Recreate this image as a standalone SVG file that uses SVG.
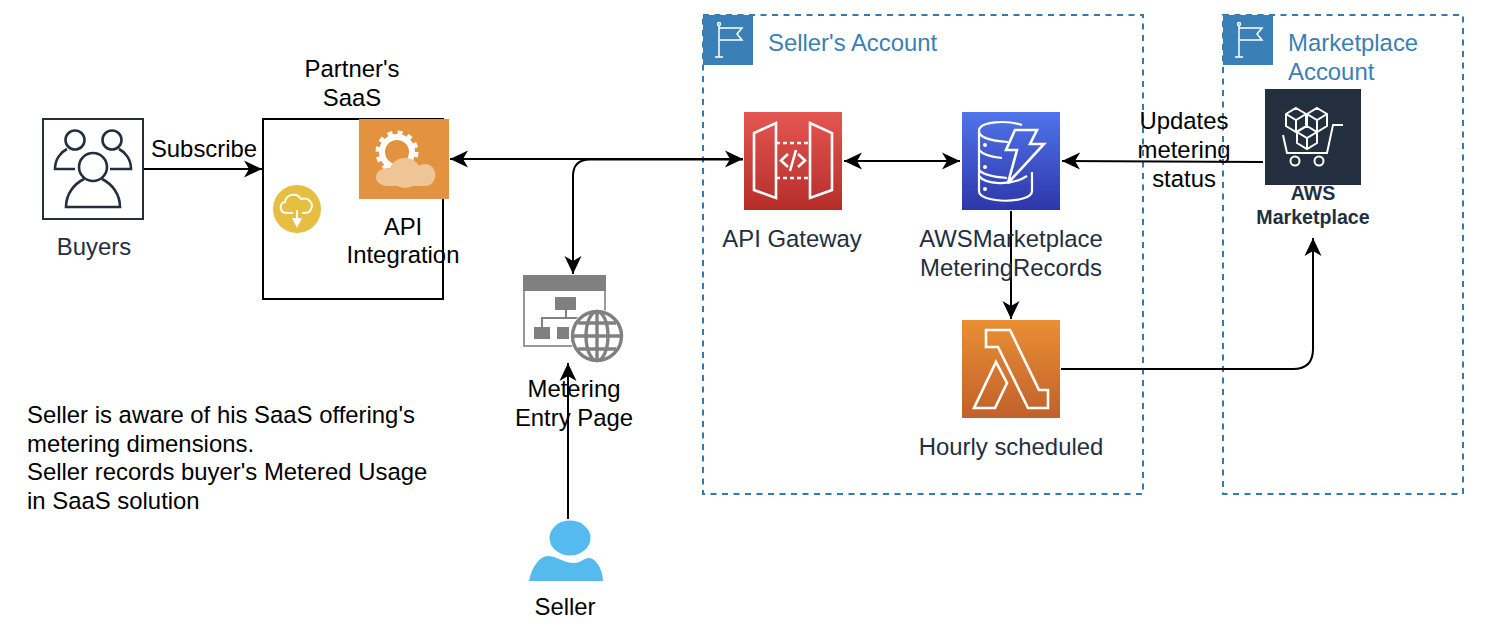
<svg xmlns="http://www.w3.org/2000/svg" width="1506" height="634" viewBox="0 0 1506 634">
<style>
text{font-family:"Liberation Sans",Arial,sans-serif;font-size:23.900px;fill:#000}
.c{text-anchor:middle}
.d{fill:#232F3E}
.b{fill:#3A7FB5}
.acct{fill:none;stroke:#337AB2;stroke-width:2;stroke-dasharray:6 5.5}
.f{fill:none;stroke:#fff;stroke-width:1.500}
.w{fill:none;stroke:#fff;stroke-width:2.600;stroke-linejoin:miter}
.wt{fill:none;stroke:#fff;stroke-width:2.600;stroke-dasharray:4 3}
.ln{fill:none;stroke:#000;stroke-width:2}
.g{fill:#808080}
.gs{fill:none;stroke:#808080;stroke-width:3.400}
.bi{fill:none;stroke:#232F3E;stroke-width:2.600}
.lb{font-size:19.600px;font-weight:700}
.cl{fill:#EFC595}
</style>
<defs>
<linearGradient id="red" x1="0" y1="0" x2="0" y2="1"><stop offset="0" stop-color="#E45652"/><stop offset="1" stop-color="#B52D29"/></linearGradient>
<linearGradient id="blue" x1="0" y1="0" x2="0" y2="1"><stop offset="0" stop-color="#4F74EB"/><stop offset="1" stop-color="#2E37A8"/></linearGradient>
<linearGradient id="orange" x1="0" y1="0" x2="0" y2="1"><stop offset="0" stop-color="#E98F34"/><stop offset="1" stop-color="#C1602B"/></linearGradient>
<marker id="ah" markerUnits="userSpaceOnUse" markerWidth="19" markerHeight="20" refX="18" refY="10" orient="auto-start-reverse"><path d="M0 1.500 L18 10 L0 18.500 L5 10Z" fill="#000"/></marker>
</defs>
<g id="seller-account"><rect class="acct" x="703" y="15" width="440" height="479"/><rect x="703" y="15" width="50" height="50" fill="#3A7FB5"/><path class="f" d="M719 25V57M715 57H723M719 28H742L737 34 742 40H719"/><circle cx="719" cy="24" r="1.500" class="f"/><text x="768" y="51" class="b">Seller's Account</text></g>
<g id="marketplace-account"><rect class="acct" x="1223" y="15" width="240" height="479"/><rect x="1223" y="15" width="50" height="50" fill="#3A7FB5"/><path class="f" d="M1239 25V57M1235 57H1243M1239 28H1262L1257 34 1262 40H1239"/><circle cx="1239" cy="24" r="1.500" class="f"/><text class="b"><tspan x="1288" y="51">Marketplace</tspan><tspan x="1288" y="80">Account</tspan></text></g>
<g id="partner-saas"><rect x="263" y="119" width="180" height="180" fill="#fff" stroke="#000" stroke-width="2"/><text class="c"><tspan x="352" y="77">Partner's</tspan><tspan x="352" y="106">SaaS</tspan></text></g>
<g id="download"><circle cx="297" cy="209" r="24" fill="#E5BE42"/><path class="w" d="M293 213H287C279 213 279 203 285 202C286 194 297 192 301 199C309 197 314 204 311 209C310 213 307 213 302 213M297 210V222" style="stroke-width:2"/><path d="M292 218H302L297 228Z" fill="#fff"/></g>
<g id="connectors">
<path class="ln" d="M143 169H262" marker-end="url(#ah)"/>
<path class="ln" d="M450 159H743" marker-start="url(#ah)" marker-end="url(#ah)"/>
<path class="ln" d="M743 159.500H590Q573 159.500 573 176V274" marker-end="url(#ah)"/>
<path class="ln" d="M844 161H960" marker-start="url(#ah)" marker-end="url(#ah)"/>
<path class="ln" d="M1263 162L1062 161" marker-end="url(#ah)"/>
<path class="ln" d="M1011 211V319" marker-end="url(#ah)"/>
<path class="ln" d="M1061 369H1293Q1313 369 1313 349V238" marker-end="url(#ah)"/>
<path class="ln" d="M568 519V363" marker-end="url(#ah)"/>
<text x="204" y="157" class="c">Subscribe</text>
</g>
<g id="buyers"><rect x="43" y="119" width="100" height="100" fill="none" stroke="#232F3E" stroke-width="2"/><circle class="bi" cx="75" cy="140" r="9.500"/><circle class="bi" cx="112" cy="140" r="9.500"/><path class="bi" d="M75 169H55C55 159 61 152 67 149M110 169H131C131 159 125 152 119 149"/><circle class="bi" cx="93" cy="167" r="14"/><path class="bi" d="M84 179C74 184 66 194 66 207H120C120 194 112 184 102 179"/><text x="94" y="255" class="c d">Buyers</text></g>
<g id="api-integration"><rect x="359" y="119" width="90" height="80" fill="#E3933F"/><circle cx="397" cy="152" r="15" fill="none" stroke="#fff" stroke-width="6"/><circle cx="397" cy="152" r="19.500" fill="none" stroke="#fff" stroke-width="4" stroke-dasharray="5 5.210"/><ellipse class="cl" cx="405" cy="173" rx="16" ry="15"/><ellipse class="cl" cx="387" cy="177" rx="11" ry="9"/><ellipse class="cl" cx="425" cy="175" rx="10.500" ry="11"/><rect class="cl" x="387" y="176" width="38" height="10"/><text class="c"><tspan x="403" y="235">API</tspan><tspan x="403" y="263">Integration</tspan></text></g>
<g id="metering-page"><rect x="524" y="276" width="81" height="70" fill="#fff" stroke="#999" stroke-width="2"/><rect x="523" y="275" width="83" height="16" class="g"/><rect x="555" y="297" width="21" height="13" class="g"/><path d="M566 310V318M542 328V318H590" fill="none" stroke="#808080" stroke-width="2"/><rect x="534" y="327" width="16" height="12" class="g"/><rect x="557" y="327" width="12" height="12" class="g"/><circle cx="597" cy="336" r="27" fill="#fff"/><circle cx="597" cy="336" r="24.500" class="gs"/><ellipse cx="597" cy="336" rx="11" ry="24.500" class="gs"/><path class="gs" d="M597 312V360M573 336H621M578 323H616M578 349H616"/><text class="c"><tspan x="574" y="397">Metering</tspan><tspan x="574" y="426">Entry Page</tspan></text></g>
<g id="api-gateway"><rect x="744" y="112" width="98" height="98" fill="url(#red)"/><path class="w" d="M776 123V198L754 190V133ZM810 123V198L832 190V133Z"/><path class="wt" d="M776 143H810M776 178H810"/><path class="w" d="M788 154L781 160.500 788 167M798 154L805 160.500 798 167M796 150L790 171"/><text x="792" y="247" class="c d">API Gateway</text></g>
<g id="metering-records"><rect x="962" y="112" width="98" height="98" fill="url(#blue)"/><path class="w" style="stroke-width:2.200" d="M1022 125C1008 120 979 121 979 131V191C979 204 1032 204 1032 191V172M979 131C979 137 990 141 1008 142M979 150C983 155 992 157 1002 158M979 170C983 175 995 177 1007 178M979 176C985 184 1010 187 1027 176"/><circle cx="985" cy="145" r="2" fill="#fff"/><circle cx="985" cy="167" r="2" fill="#fff"/><circle cx="985" cy="189" r="2" fill="#fff"/><path class="w" d="M1015 130H1037L1030 144H1044L1008 183L1017 150H1006Z"/><text class="c d"><tspan x="1011" y="247">AWSMarketplace</tspan><tspan x="1011" y="276">MeteringRecords</tspan></text></g>
<g id="lambda"><rect x="962" y="320" width="98" height="98" fill="url(#orange)"/><path class="w" d="M986 330H1010L1039 390H1048V408H1028L998 347H986ZM996 362L1007 383 995 408H974Z"/><text x="1011" y="455" class="c d">Hourly scheduled</text></g>
<g id="aws-marketplace"><rect x="1265" y="89" width="96" height="96" fill="#232F3E"/><path class="w" style="stroke-width:2" d="M1296 108L1306 114V126L1296 132 1286 126V114ZM1286 114L1296 120 1306 114M1296 120V132M1317 108L1327 114V126L1317 132 1307 126V114ZM1307 114L1317 120 1327 114M1317 120V132M1307 126L1317 132V143L1307 149 1297 143V132ZM1297 132L1307 138 1317 132M1307 138V149M1283 135L1287 153H1327L1333 125H1343"/><circle class="w" style="stroke-width:2" cx="1295" cy="161" r="4.500"/><circle class="w" style="stroke-width:2" cx="1319" cy="161" r="4.500"/><text class="c d lb"><tspan x="1313" y="200">AWS</tspan><tspan x="1313" y="224">Marketplace</tspan></text></g>
<g id="updates-label"><text class="c"><tspan x="1184" y="129">Updates</tspan><tspan x="1184" y="158">metering</tspan><tspan x="1184" y="187">status</tspan></text></g>
<g id="seller"><ellipse cx="570" cy="538" rx="20.500" ry="17.500" fill="#55BBEF"/><path d="M529 581C532 566 540 556 548 556C556 556 564 563 574 563C581 563 584 558 589 558C596 558 603 570 603 581Z" fill="#55BBEF"/><text x="565" y="615" class="c">Seller</text></g>
<g id="note"><text><tspan x="27" y="423">Seller is aware of his SaaS offering's</tspan><tspan x="27" y="452">metering dimensions.</tspan><tspan x="27" y="480">Seller records buyer's Metered Usage</tspan><tspan x="27" y="509">in SaaS solution</tspan></text></g>
</svg>
